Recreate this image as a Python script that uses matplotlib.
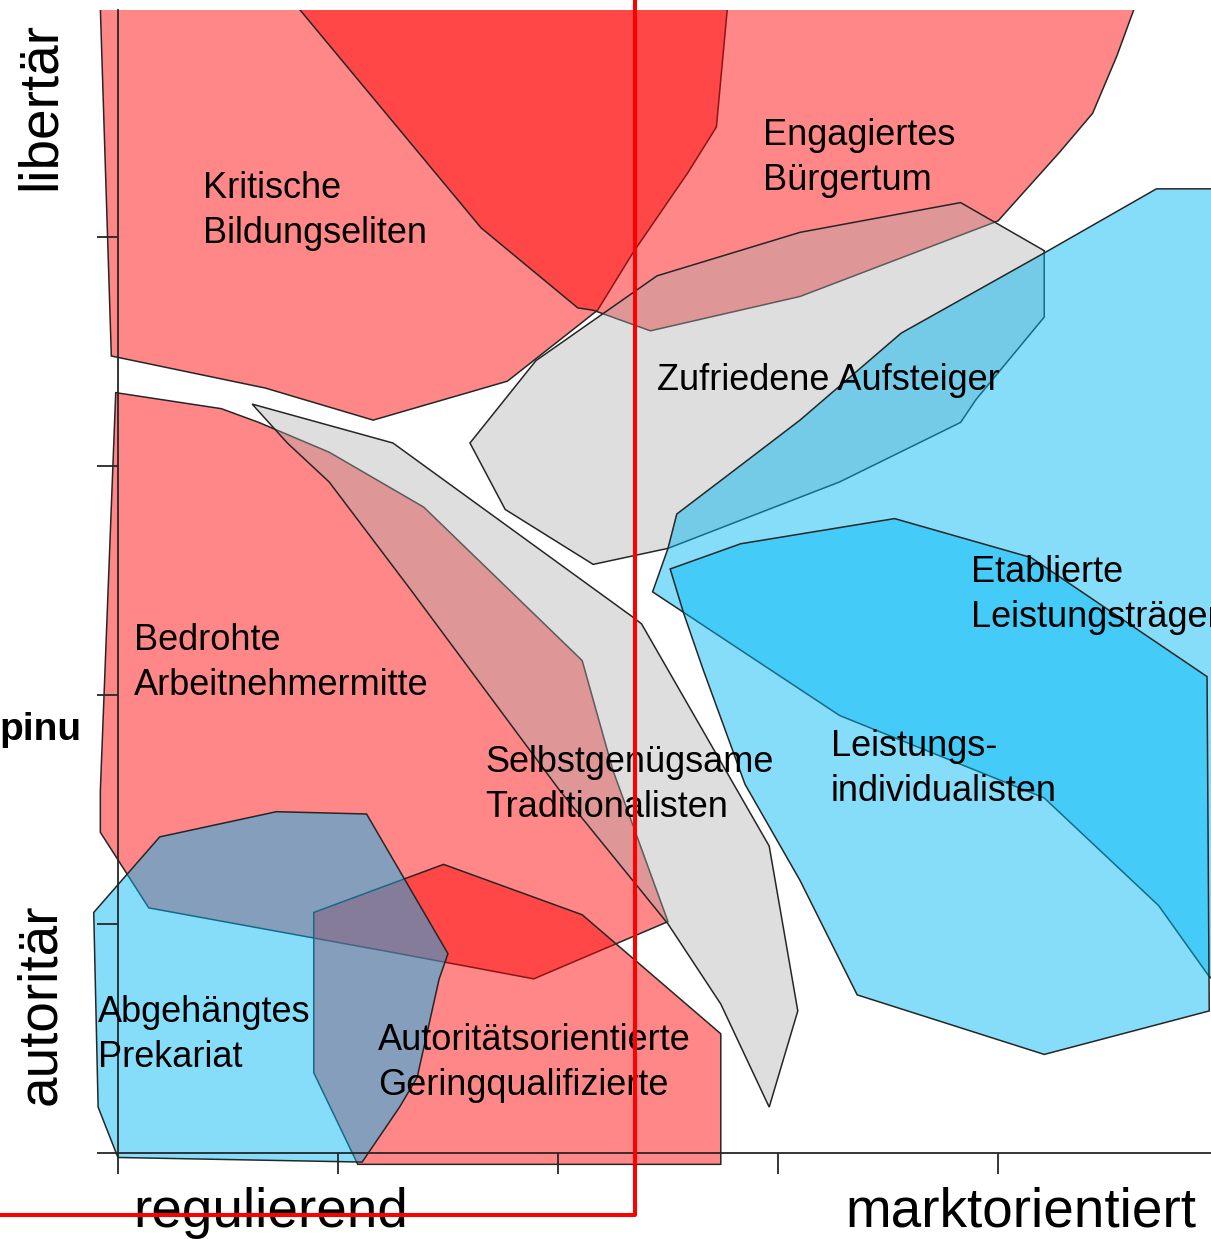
import matplotlib
matplotlib.use("Agg")
import matplotlib.pyplot as plt
from matplotlib.patches import Polygon

plt.rcParams['font.family'] = ['Liberation Sans', 'DejaVu Sans']

# milieu hulls: x = regulierend (-) .. marktorientiert (+), y = autoritaer (-) .. libertaer (+)
kritische_x = [-2.08, -2.03, -1.33, -0.84, -0.23, 0.18, 0.34, 0.59, 0.72, 0.77]
kritische_y = [3.00, 1.48, 1.34, 1.20, 1.37, 1.68, 1.93, 2.28, 2.48, 3.00]

engagiert_x = [-1.18, -0.35, 0.09, 0.16, 0.42, 1.10, 2.00, 2.28, 2.43, 2.54, 2.62]
engagiert_y = [3.00, 2.04, 1.69, 1.68, 1.59, 1.74, 2.07, 2.37, 2.54, 2.79, 3.00]

bedroht_x = [-2.01, -1.53, -1.36, -1.04, -0.61, 0.11, 0.25, 0.50, -0.11, -0.72, -1.86, -2.08, -2.08]
bedroht_y = [1.32, 1.25, 1.19, 1.06, 0.82, 0.15, -0.33, -0.99, -1.24, -1.13, -0.93, -0.60, -0.42]

autoritaet_x = [-1.11, -0.52, 0.11, 0.74, 0.74, -0.91, -1.11]
autoritaet_y = [-0.95, -0.74, -0.96, -1.48, -2.05, -2.05, -1.65]

zufrieden_x = [0.45, 1.10, 1.83, 2.21, 2.21, 1.90, 1.83, 1.28, 0.50, 0.16, -0.24, -0.40, -0.10]
zufrieden_y = [1.83, 2.02, 2.15, 1.94, 1.65, 1.29, 1.19, 0.93, 0.64, 0.57, 0.81, 1.10, 1.46]

selbst_x = [-1.39, -0.75, 0.34, 0.38, 0.96, 1.09, 0.96, 0.74, 0.50, 0.01, -0.67, -1.04, -1.23]
selbst_y = [1.27, 1.10, 0.34, 0.31, -0.66, -1.38, -1.80, -1.35, -1.00, -0.42, 0.46, 0.93, 1.10]

etabliert_x = [0.54, 0.80, 1.10, 1.56, 2.21, 2.72, 3.10, 3.10, 2.96, 2.73, 2.21, 1.28, 0.43, 0.50]
etabliert_y = [0.79, 0.98, 1.20, 1.58, 1.93, 2.21, 2.21, -1.33, -1.23, -0.92, -0.45, -0.09, 0.45, 0.64]

leistung_x = [0.51, 0.83, 1.53, 2.15, 2.95, 2.96, 2.21, 1.36, 1.10, 0.85, 0.66, 0.57]
leistung_y = [0.55, 0.66, 0.77, 0.60, 0.08, -1.38, -1.57, -1.31, -0.81, -0.39, 0.11, 0.36]

abgehaengt_x = [-2.11, -1.81, -1.28, -0.87, -0.50, -0.54, -0.64, -0.72, -0.89, -2.00, -2.09]
abgehaengt_y = [-0.95, -0.62, -0.51, -0.52, -1.13, -1.24, -1.67, -1.80, -2.04, -2.02, -1.80]

ticks = [-2, -1, 0, 1, 2]

red = (1.0, 0.0, 0.0, 0.47)
grey = (0.68, 0.68, 0.68, 0.40)
blue = (0.0, 0.72, 0.96, 0.48)

hulls = [
    (kritische_x, kritische_y, red),
    (engagiert_x, engagiert_y, red),
    (bedroht_x, bedroht_y, red),
    (autoritaet_x, autoritaet_y, red),
    (zufrieden_x, zufrieden_y, grey),
    (selbst_x, selbst_y, grey),
    (etabliert_x, etabliert_y, blue),
    (leistung_x, leistung_y, blue),
    (abgehaengt_x, abgehaengt_y, blue),
]

fig = plt.figure(figsize=(12.11, 12.39), dpi=100)
ax = fig.add_axes([0, 0, 1, 1 - 10 / 1239])
ax.set_xlim(-2.536, 2.968)
ax.set_ylim(-2.376, 2.991)

for xs, ys, col in hulls:
    ax.add_patch(Polygon(list(zip(xs, ys)), closed=True, facecolor=col,
                         edgecolor='#262626', linewidth=1.1))

# axes drawn through (-2,-2) like the R original
for s in ['top', 'right']:
    ax.spines[s].set_visible(False)
ax.spines['left'].set_position(('data', -2))
ax.spines['bottom'].set_position(('data', -2))
ax.spines['left'].set_bounds(-2, 2.991)
ax.spines['bottom'].set_bounds(-2, 2.968)
for s in ['left', 'bottom']:
    ax.spines[s].set_linewidth(1.3)
    ax.spines[s].set_color('#262626')
ax.set_xticks(ticks)
ax.set_yticks(ticks)
ax.tick_params(direction='out', length=15, width=1.3, color='#262626',
               labelbottom=False, labelleft=False)

# milieu names (anchored at the baseline of the last line)
labels = [
    ("Kritische\nBildungseliten", -1.614, 1.974),
    ("Engagiertes\nBürgertum", 0.932, 2.205),
    ("Zufriedene Aufsteiger", 0.45, 1.332),
    ("Etablierte\nLeistungsträger", 1.877, 0.297),
    ("Bedrohte\nArbeitnehmermitte", -1.927, 0.0),
    ("Selbstgenügsame\nTraditionalisten", -0.332, -0.533),
    ("Leistungs-\nindividualisten", 1.241, -0.463),
    ("Abgehängtes\nPrekariat", -2.091, -1.624),
    ("Autoritätsorientierte\nGeringqualifizierte", -0.818, -1.747),
]
for txt, x, y in labels:
    ax.text(x, y, txt, fontsize=26, ha='left', va='baseline', linespacing=1.36,
            color='black', zorder=5)

# axis names
ax.text(-2.286, 2.205, 'libertär', rotation=90, rotation_mode='anchor',
        ha='left', va='baseline', fontsize=39.5, clip_on=False)
ax.text(-2.286, -1.790, 'autoritär', rotation=90, rotation_mode='anchor',
        ha='left', va='baseline', fontsize=39.5, clip_on=False)
ax.text(-1.932, -2.323, 'regulierend', ha='left', va='baseline', fontsize=39.5, clip_on=False)
ax.text(1.305, -2.323, 'marktorientiert', ha='left', va='baseline', fontsize=39.5, clip_on=False)

# cut-off word at left
ax.text(-2.164, -0.197, 'pinu', ha='right', va='baseline', fontsize=28,
        fontweight='bold', clip_on=False)

# red frame drawn over the picture
frame_x = [-2.6, 0.35, 0.35]
frame_y = [-2.271, -2.271, 3.05]
ax.plot(frame_x, frame_y, color='#ff0000', lw=2.9, clip_on=False,
        solid_joinstyle='round', zorder=10)

fig.savefig('out.png', dpi=100, facecolor='white')
